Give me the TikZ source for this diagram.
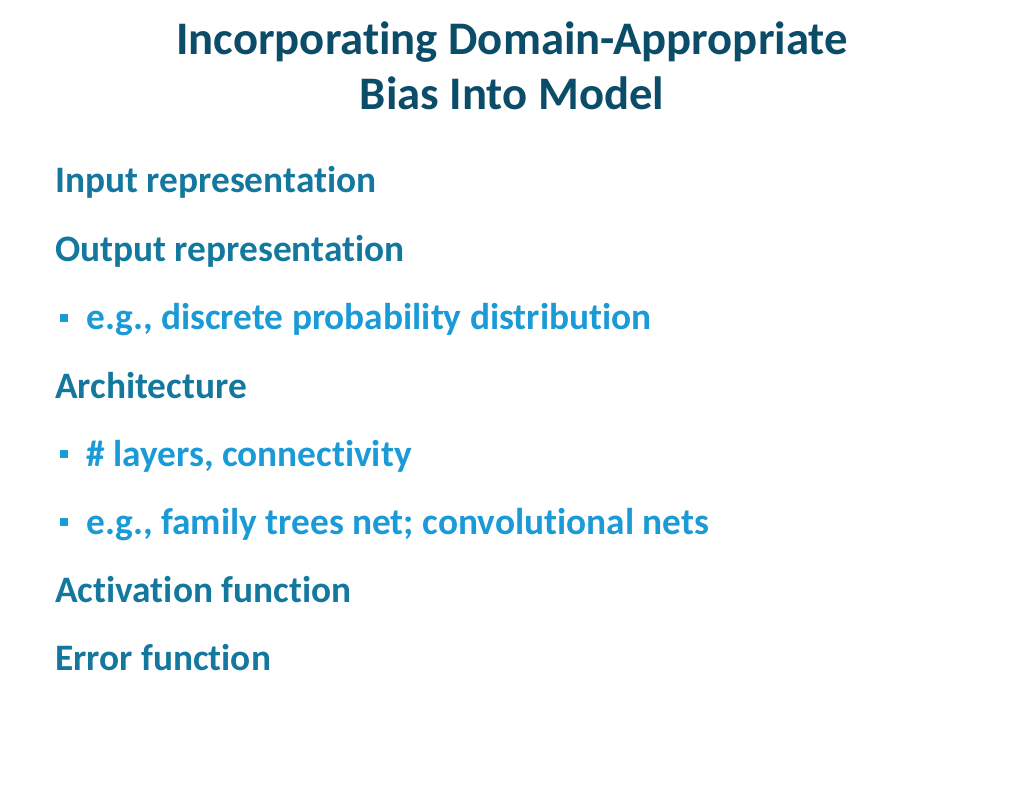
\documentclass[tikz,border=0pt]{standalone}
\usepackage{fontspec}
\setmainfont{Carlito}[Ligatures={NoCommon,NoRequired,NoContextual}]
\definecolor{ttl}{HTML}{0B4C68}
\definecolor{lone}{HTML}{14789E}
\definecolor{ltwo}{HTML}{1A9AD6}
\begin{document}
\begin{tikzpicture}[x=0.75pt,y=-0.75pt,
  ttlstyle/.style={font=\fontsize{35}{42}\selectfont\bfseries,text=ttl,align=center,inner sep=0},
  lvone/.style={anchor=base west,font=\fontsize{28}{34}\selectfont\bfseries,text=lone,inner sep=0},
  lvtwo/.style={anchor=base west,font=\fontsize{28}{34}\selectfont\bfseries,text=ltwo,inner sep=0},
  bul/.style={fill=ltwo,minimum size=6.5pt,inner sep=0}]
\useasboundingbox (0,0) rectangle (1024,791);
\node[ttlstyle,anchor=base] (t1) at (512,55) {Incorporating Domain-Appropriate};
\node[ttlstyle,anchor=base] (t2) at (512,110) {Bias Into Model};
\node[lvone] (a) at (55,193) {Input representation};
\node[lvone] (b) at (55,262) {Output representation};
\node[bul] (s1) at (64,318) {};
\node[lvtwo] (c) at (86,330) {e.g., discrete probability distribution};
\node[lvone] (d) at (55,398) {Architecture};
\node[bul] (s2) at (64,454) {};
\node[lvtwo] (e) at (86,466) {\# layers, connectivity};
\node[bul] (s3) at (64,522) {};
\node[lvtwo] (f) at (86,534) {e.g., family trees net; convolutional nets};
\node[lvone] (g) at (55,602) {Activation function};
\node[lvone] (h) at (55,670) {Error function};
\end{tikzpicture}
\end{document}
